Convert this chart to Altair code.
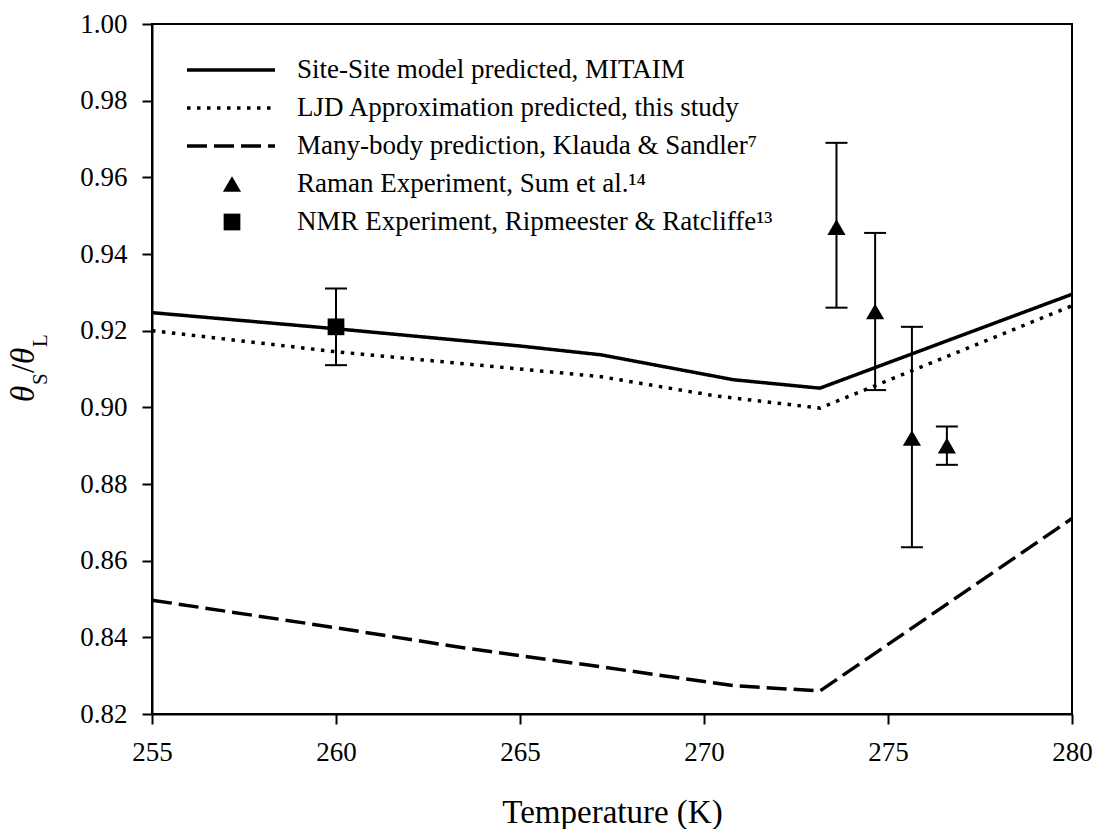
import altair as alt
import pandas as pd

FONT = "Liberation Serif"

# ---- model curves ----
series_names = [
    "Site-Site model predicted, MITAIM",
    "LJD Approximation predicted, this study",
    "Many-body prediction, Klauda & Sandler⁷",
]
site_T = [255, 260, 265, 267.2, 270.8, 273.15, 280]
site_R = [0.9247, 0.9205, 0.9160, 0.9137, 0.9072, 0.9050, 0.9295]
ljd_T = [255, 260, 265, 267.2, 270.3, 273.15, 280]
ljd_R = [0.9200, 0.9145, 0.9100, 0.9080, 0.9030, 0.8998, 0.9265]
mb_T = [255, 260, 263.5, 267.2, 270.8, 273.15, 280]
mb_R = [0.8497, 0.8425, 0.8372, 0.8323, 0.8274, 0.8260, 0.8710]

# ---- experiments ----
raman_T = [273.6, 274.65, 275.65, 276.6]
raman_R = [0.947, 0.925, 0.892, 0.890]
raman_lo = [0.926, 0.9045, 0.8635, 0.885]
raman_hi = [0.969, 0.9455, 0.921, 0.895]
nmr_T = [260.0]
nmr_R = [0.921]
nmr_lo = [0.911]
nmr_hi = [0.931]

legend_labels = [
    "Site-Site model predicted, MITAIM",
    "LJD Approximation predicted, this study",
    "Many-body prediction, Klauda & Sandler⁷",
    "Raman Experiment, Sum et al.¹⁴",
    "NMR Experiment, Ripmeester & Ratcliffe¹³",
]

x_ticks = [255, 260, 265, 270, 275, 280]
y_ticks = [0.82, 0.84, 0.86, 0.88, 0.90, 0.92, 0.94, 0.96, 0.98, 1.00]

dashes = [[1, 0], [3.5, 6.5], [20, 7]]

rows = []
for name, Ts, Rs in zip(series_names, [site_T, ljd_T, mb_T], [site_R, ljd_R, mb_R]):
    for t, r in zip(Ts, Rs):
        rows.append({"series": name, "T": t, "ratio": r})
lines_df = pd.DataFrame(rows)

exp_df = pd.DataFrame({
    "kind": ["Raman"] * len(raman_T) + ["NMR"] * len(nmr_T),
    "T": raman_T + nmr_T,
    "ratio": raman_R + nmr_R,
    "lo": raman_lo + nmr_lo,
    "hi": raman_hi + nmr_hi,
})

xscale = alt.Scale(domain=[255, 280], nice=False, zero=False)
yscale = alt.Scale(domain=[0.82, 1.00], nice=False, zero=False)

x_axis = alt.Axis(values=x_ticks, format="d", title="Temperature (K)", grid=False,
                  tickSize=10, tickWidth=2, tickColor="black", domainColor="black", domainWidth=2,
                  labelFont=FONT, labelFontSize=27, labelColor="black", labelPadding=15,
                  labelFlush=False, labelOverlap=False,
                  titleFont=FONT, titleFontSize=33, titleFontWeight="normal", titleColor="black",
                  titleY=108, titleBaseline="alphabetic")
y_axis = alt.Axis(values=y_ticks, format=".2f", title=None, grid=False,
                  tickSize=10, tickWidth=2, tickColor="black", domainColor="black", domainWidth=2,
                  labelFont=FONT, labelFontSize=27, labelColor="black", labelPadding=15,
                  labelFlush=False, labelOverlap=False)

lines = alt.Chart(lines_df).mark_line(color="black", strokeWidth=3.5, strokeCap="butt").encode(
    x=alt.X("T:Q", scale=xscale, axis=x_axis),
    y=alt.Y("ratio:Q", scale=yscale, axis=y_axis),
    strokeDash=alt.StrokeDash("series:N", scale=alt.Scale(domain=series_names, range=dashes), legend=None),
    order="T:Q",
)

err = alt.Chart(exp_df).mark_rule(color="black", strokeWidth=2).encode(
    x=alt.X("T:Q", scale=xscale), y=alt.Y("lo:Q", scale=yscale), y2="hi:Q")
cap_lo = alt.Chart(exp_df).mark_tick(color="black", orient="horizontal", size=22, thickness=2, opacity=1).encode(
    x=alt.X("T:Q", scale=xscale), y=alt.Y("lo:Q", scale=yscale))
cap_hi = alt.Chart(exp_df).mark_tick(color="black", orient="horizontal", size=22, thickness=2, opacity=1).encode(
    x=alt.X("T:Q", scale=xscale), y=alt.Y("hi:Q", scale=yscale))

tri = alt.Chart(exp_df).transform_filter("datum.kind == 'Raman'").mark_point(
    shape="triangle-up", filled=True, color="black", opacity=1, size=330).encode(
    x=alt.X("T:Q", scale=xscale), y=alt.Y("ratio:Q", scale=yscale))
sq = alt.Chart(exp_df).transform_filter("datum.kind == 'NMR'").mark_point(
    shape="square", filled=True, color="black", opacity=1, size=280).encode(
    x=alt.X("T:Q", scale=xscale), y=alt.Y("ratio:Q", scale=yscale))

# ---- hand-made legend (layout in pixels) ----
leg_df = pd.DataFrame({"label": legend_labels, "row": list(range(5))})
row_y = [46, 84, 122, 160, 198]
legend_layers = []
for i in range(5):
    base = alt.Chart(leg_df).transform_filter(f"datum.row == {i}")
    if i < 3:
        legend_layers.append(base.mark_rule(color="black", strokeWidth=3.5, strokeCap="butt",
                                            strokeDash=dashes[i]).encode(
            x=alt.value(35), x2=alt.value(123), y=alt.value(row_y[i])))
    else:
        legend_layers.append(base.mark_point(shape="triangle-up" if i == 3 else "square", filled=True,
                                             color="black", opacity=1, size=330 if i == 3 else 280).encode(
            x=alt.value(80), y=alt.value(row_y[i])))
    legend_layers.append(base.mark_text(align="left", baseline="middle", font=FONT, fontSize=27,
                                        color="black").encode(
        x=alt.value(145), y=alt.value(row_y[i]), text="label:N"))

# ---- y-axis title  θS/θL ----
title_df = pd.DataFrame({"t": ["θ", "S", "/", "θ", "L"], "i": list(range(5))})
tpos = [(-118, 378, 33, "italic"), (-105, 361, 21, "normal"), (-118, 349, 33, "normal"),
        (-118, 340, 33, "italic"), (-105, 323, 21, "normal")]
title_layers = []
for i, (tx, ty, fs, st) in enumerate(tpos):
    title_layers.append(alt.Chart(title_df).transform_filter(f"datum.i == {i}").mark_text(
        align="left", baseline="alphabetic", angle=270, font=FONT, fontSize=fs, fontStyle=st,
        color="black").encode(x=alt.value(tx), y=alt.value(ty), text="t:N"))

chart = alt.layer(lines, err, cap_lo, cap_hi, tri, sq, *legend_layers, *title_layers).properties(
    width=920, height=690,
    autosize=alt.AutoSizeParams(type="none"),
    padding={"left": 152, "top": 24, "right": 24, "bottom": 115},
    background="white",
).configure_view(stroke="black", strokeWidth=2)

chart.save("out.html", embed_options={"renderer": "svg", "actions": False})
